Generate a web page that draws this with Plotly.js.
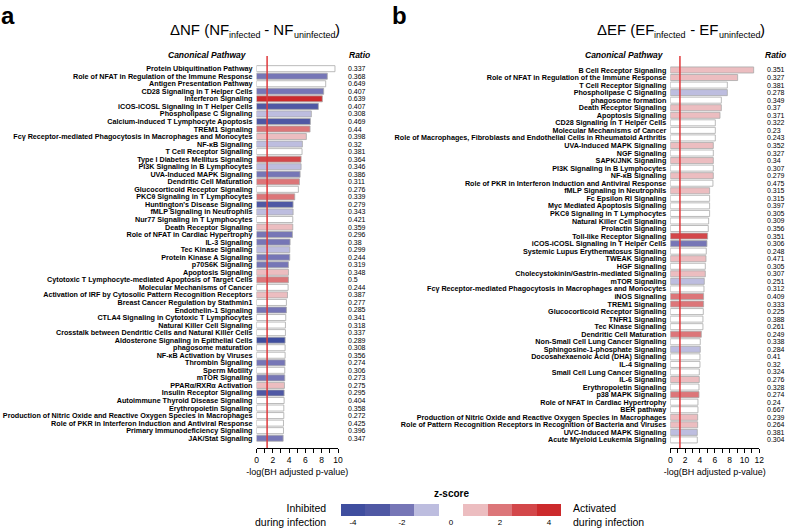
<!DOCTYPE html>
<html><head><meta charset="utf-8">
<script src="https://cdn.plot.ly/plotly-3.0.1.min.js"></script>
<style>body{margin:0;background:#fff}#c{width:787px;height:528px}</style>
</head><body><div id="c"></div>
<script>
const namesA = ["Protein Ubiquitination Pathway","Role of NFAT in Regulation of the Immune Response","Antigen Presentation Pathway","CD28 Signaling in T Helper Cells","Interferon Signaling","iCOS-iCOSL Signaling in T Helper Cells","Phospholipase C Signaling","Calcium-induced T Lymphocyte Apoptosis","TREM1 Signaling","Fcγ Receptor-mediated Phagocytosis in Macrophages and Monocytes","NF-κB Signaling","T Cell Receptor Signaling","Type I Diabetes Mellitus Signaling","PI3K Signaling in B Lymphocytes","UVA-Induced MAPK Signaling","Dendritic Cell Maturation","Glucocorticoid Receptor Signaling","PKCθ Signaling in T Lymphocytes","Huntington's Disease Signaling","fMLP Signaling in Neutrophils","Nur77 Signaling in T Lymphocytes","Death Receptor Signaling","Role of NFAT in Cardiac Hypertrophy","IL-3 Signaling","Tec Kinase Signaling","Protein Kinase A Signaling","p70S6K Signaling","Apoptosis Signaling","Cytotoxic T Lymphocyte-mediated Apoptosis of Target Cells","Molecular Mechanisms of Cancer","Activation of IRF by Cytosolic Pattern Recognition Receptors","Breast Cancer Regulation by Stathmin1","Endothelin-1 Signaling","CTLA4 Signaling in Cytotoxic T Lymphocytes","Natural Killer Cell Signaling","Crosstalk between Dendritic Cells and Natural Killer Cells","Aldosterone Signaling in Epithelial Cells","phagosome maturation","NF-κB Activation by Viruses","Thrombin Signaling","Sperm Motility","mTOR Signaling","PPARα/RXRα Activation","Insulin Receptor Signaling","Autoimmune Thyroid Disease Signaling","Erythropoietin Signaling","Production of Nitric Oxide and Reactive Oxygen Species in Macrophages","Role of PKR in Interferon Induction and Antiviral Response","Primary Immunodeficiency Signaling","JAK/Stat Signaling"];
const pvalA = [9.63,8.69,8.49,8.24,8.08,7.59,6.73,6.61,6.57,6.12,5.63,5.59,5.47,5.47,5.35,5.27,5.14,4.69,4.49,4.49,4.45,4.45,4.41,4.12,4.08,4.08,3.92,3.92,3.92,3.88,3.80,3.67,3.67,3.59,3.55,3.55,3.51,3.51,3.51,3.51,3.47,3.47,3.43,3.39,3.39,3.35,3.35,3.31,3.31,3.27];
const ratioA = [0.337,0.368,0.649,0.407,0.639,0.407,0.308,0.469,0.44,0.398,0.32,0.381,0.364,0.346,0.386,0.311,0.276,0.339,0.279,0.343,0.421,0.359,0.296,0.38,0.299,0.244,0.319,0.348,0.5,0.244,0.387,0.277,0.285,0.341,0.318,0.337,0.289,0.308,0.356,0.274,0.306,0.273,0.275,0.295,0.404,0.358,0.272,0.425,0.396,0.347];
const zA = [null,-2,null,-2,4,-3,-1,-3,2,1,-1,null,3,-1,-2,2,null,2,-3,-1,null,1,-2,-2,-1,-2,-2,1,2,null,1,null,-2,null,null,null,-4,null,null,-2,null,-2,1,-3,null,null,null,null,null,-2];

const namesB = ["B Cell Receptor Signaling","Role of NFAT in Regulation of the Immune Response","T Cell Receptor Signaling","Phospholipase C Signaling","phagosome formation","Death Receptor Signaling","Apoptosis Signaling","CD28 Signaling in T Helper Cells","Molecular Mechanisms of Cancer","Role of Macrophages, Fibroblasts and Endothelial Cells in Rheumatoid Arthritis","UVA-Induced MAPK Signaling","NGF Signaling","SAPK/JNK Signaling","PI3K Signaling in B Lymphocytes","NF-κB Signaling","Role of PKR in Interferon Induction and Antiviral Response","fMLP Signaling in Neutrophils","Fc Epsilon RI Signaling","Myc Mediated Apoptosis Signaling","PKCθ Signaling in T Lymphocytes","Natural Killer Cell Signaling","Prolactin Signaling","Toll-like Receptor Signaling","iCOS-iCOSL Signaling in T Helper Cells","Systemic Lupus Erythematosus Signaling","TWEAK Signaling","HGF Signaling","Cholecystokinin/Gastrin-mediated Signaling","mTOR Signaling","Fcγ Receptor-mediated Phagocytosis in Macrophages and Monocytes","iNOS Signaling","TREM1 Signaling","Glucocorticoid Receptor Signaling","TNFR1 Signaling","Tec Kinase Signaling","Dendritic Cell Maturation","Non-Small Cell Lung Cancer Signaling","Sphingosine-1-phosphate Signaling","Docosahexaenoic Acid (DHA) Signaling","IL-4 Signaling","Small Cell Lung Cancer Signaling","IL-6 Signaling","Erythropoietin Signaling","p38 MAPK Signaling","Role of NFAT in Cardiac Hypertrophy","BER pathway","Production of Nitric Oxide and Reactive Oxygen Species in Macrophages","Role of Pattern Recognition Receptors in Recognition of Bacteria and Viruses","UVC-Induced MAPK Signaling","Acute Myeloid Leukemia Signaling"];
const pvalB = [11.24,9.08,7.69,7.69,6.88,6.88,6.70,6.07,6.07,6.07,5.80,5.80,5.80,5.80,5.80,5.75,5.30,5.30,5.30,5.30,5.17,5.12,5.03,4.94,4.85,4.81,4.72,4.72,4.58,4.54,4.49,4.49,4.45,4.40,4.40,4.18,4.04,4.04,4.00,4.00,3.91,3.91,3.87,3.87,3.73,3.73,3.69,3.69,3.64,3.64];
const ratioB = [0.351,0.327,0.381,0.278,0.349,0.37,0.371,0.322,0.23,0.243,0.352,0.327,0.34,0.307,0.279,0.475,0.315,0.315,0.397,0.305,0.309,0.356,0.351,0.306,0.248,0.471,0.305,0.307,0.251,0.312,0.409,0.333,0.225,0.388,0.261,0.249,0.338,0.284,0.41,0.32,0.324,0.276,0.328,0.274,0.24,0.667,0.239,0.264,0.381,0.304];
const zB = [1,1,null,-1,null,1,1,null,null,null,1,null,1,null,1,null,1,null,null,null,null,null,3,-2,null,1,null,1,-1,null,2,2,null,null,null,2,null,-1,null,null,null,1,null,2,null,null,1,1,-1,null];

const titlePartsA = [["ΔNF (NF",false],["infected",true],[" - NF",false],["uninfected",true],[")",false]];
const titlePartsB = [["ΔEF (EF",false],["infected",true],[" - EF",false],["uninfected",true],[")",false]];
const majorTicksA = [0,2,4,6,8,10];
const minorTicksA = [1,3,5,7,9];
const majorTicksB = [0,2,4,6,8,10,12];
const minorTicksB = [1,3,5,7,9,11];
const legendZ = [-4,-3,-2,-1,1,2,3,4];
const legendTickVals = [-4,-2,0,2,4];
const legendTickText = ["-4","-2","0","2","4"];
const threshold = 1.3;

const zColors = {"-4":"#3f4e9f","-3":"#4f58a4","-2":"#7676b6","-1":"#bdbddf","1":"#ecbdc0","2":"#dc7679","3":"#d3474a","4":"#cc2a2c"};
function colorFor(z){ if(z===null) return "#ffffff"; const k=Math.max(-4,Math.min(4,Math.round(z))); return zColors[String(k)]; }

const W=787,H=528;
const FF="Liberation Sans, Arial, sans-serif";
const px=x=>x/W, py=y=>1-y/H;
const idxA = namesA.map((_,i)=>i), idxB = namesB.map((_,i)=>i);

const traces = [
 {type:"bar",orientation:"h",x:pvalA,y:idxA,xaxis:"x",yaxis:"y",width:0.8,
  marker:{color:zA.map(colorFor),line:{color:"#a9a9a9",width:0.8}},hoverinfo:"none"},
 {type:"bar",orientation:"h",x:pvalB,y:idxB,xaxis:"x2",yaxis:"y2",width:0.8,
  marker:{color:zB.map(colorFor),line:{color:"#a9a9a9",width:0.8}},hoverinfo:"none"},
 {type:"bar",x:legendZ,y:legendZ.map(()=>1),xaxis:"x3",yaxis:"y3",width:1,
  marker:{color:legendZ.map(colorFor),line:{width:0}},hoverinfo:"none"}
];

const tickFontY={family:FF,size:7.2,color:"#000",weight:"bold"};
const xAxisCommon={showgrid:false,zeroline:false,showline:true,linecolor:"#000",linewidth:1,ticks:"outside",ticklen:4,tickcolor:"#000",tickwidth:1,tickmode:"array",tickfont:{family:FF,size:8.5,color:"#000"},fixedrange:true,
  title:{text:"-log(BH adjusted p-value)",font:{family:FF,size:9,color:"#000"},standoff:4}};

const annotations=[];
ratioA.forEach((r,i)=>annotations.push({xref:"paper",yref:"y",x:px(346),y:i,text:String(r),xanchor:"left",showarrow:false,font:{family:FF,size:7,color:"#000"}}));
ratioB.forEach((r,i)=>annotations.push({xref:"paper",yref:"y2",x:px(765),y:i,text:String(r),xanchor:"left",showarrow:false,font:{family:FF,size:7,color:"#000"}}));
const hdr={family:FF,size:8.5,color:"#000",weight:"bold",style:"italic"};
annotations.push({xref:"paper",yref:"paper",x:px(249),y:py(55),text:"Canonical Pathway",xanchor:"right",yanchor:"middle",showarrow:false,font:hdr});
annotations.push({xref:"paper",yref:"paper",x:px(347),y:py(55),text:"Ratio",xanchor:"left",yanchor:"middle",showarrow:false,font:hdr});
annotations.push({xref:"paper",yref:"paper",x:px(666),y:py(55),text:"Canonical Pathway",xanchor:"right",yanchor:"middle",showarrow:false,font:hdr});
annotations.push({xref:"paper",yref:"paper",x:px(763),y:py(55),text:"Ratio",xanchor:"left",yanchor:"middle",showarrow:false,font:hdr});

// titles assembled from pieces (main size 15, subscript size 9)
const cv=document.createElement("canvas").getContext("2d");
function textW(t,s){ cv.font=s+"px 'Liberation Sans', Arial, sans-serif"; return cv.measureText(t).width; }
function addTitle(parts,cx,cy){
  const MS=15, SS=9;
  const widths=parts.map(p=>textW(p[0],p[1]?SS:MS));
  let x=cx-widths.reduce((a,b)=>a+b,0)/2;
  parts.forEach((p,i)=>{
    annotations.push({xref:"paper",yref:"paper",x:px(x),y:py(p[1]?cy+6:cy),text:p[0],xanchor:"left",yanchor:"middle",borderpad:0,showarrow:false,font:{family:FF,size:p[1]?SS:MS,color:"#000"}});
    x+=widths[i];
  });
}
addTitle(titlePartsA,254,29);
addTitle(titlePartsB,680,29);

annotations.push({xref:"paper",yref:"paper",x:px(-1),y:py(0),text:"a",xanchor:"left",yanchor:"top",showarrow:false,font:{family:FF,size:24,color:"#000",weight:"bold"}});
annotations.push({xref:"paper",yref:"paper",x:px(390),y:py(0),text:"b",xanchor:"left",yanchor:"top",showarrow:false,font:{family:FF,size:24,color:"#000",weight:"bold"}});
annotations.push({xref:"paper",yref:"paper",x:px(451),y:py(493),text:"z-score",xanchor:"center",yanchor:"middle",showarrow:false,font:{family:FF,size:10,color:"#000",weight:"bold"}});
annotations.push({xref:"paper",yref:"paper",x:px(328),y:py(515),text:"Inhibited<br>during infection",xanchor:"right",yanchor:"middle",align:"right",showarrow:false,font:{family:FF,size:10.5,color:"#000"}});
annotations.push({xref:"paper",yref:"paper",x:px(571),y:py(515),text:"Activated<br>during infection",xanchor:"left",yanchor:"middle",align:"left",showarrow:false,font:{family:FF,size:10.5,color:"#000"}});

const minorCommon={ticks:"outside",ticklen:4,tickcolor:"#000",tickwidth:1,showgrid:false,tickmode:"array"};
const layout={
 width:W,height:H,margin:{l:0,r:0,t:0,b:0},paper_bgcolor:"#fff",plot_bgcolor:"rgba(0,0,0,0)",showlegend:false,bargap:0,
 xaxis:Object.assign({},xAxisCommon,{domain:[px(256.5),px(338)],range:[0,10],anchor:"y",tickvals:majorTicksA,ticktext:majorTicksA.map(String),minor:Object.assign({},minorCommon,{tickvals:minorTicksA})}),
 yaxis:{domain:[py(448),py(56)],range:[50.3,-1.68],showgrid:false,zeroline:false,showline:false,ticks:"",tickmode:"array",tickvals:idxA,ticktext:namesA,tickfont:tickFontY,ticklabelstandoff:3,anchor:"x",fixedrange:true},
 xaxis2:Object.assign({},xAxisCommon,{domain:[px(670.3),px(759.3)],range:[0,12],anchor:"y2",tickvals:majorTicksB,ticktext:majorTicksB.map(String),minor:Object.assign({},minorCommon,{tickvals:minorTicksB})}),
 yaxis2:{domain:[py(448),py(56)],range:[50.07,-1.85],showgrid:false,zeroline:false,showline:false,ticks:"",tickmode:"array",tickvals:idxB,ticktext:namesB,tickfont:tickFontY,ticklabelstandoff:3,anchor:"x2",fixedrange:true},
 xaxis3:{domain:[px(340.7),px(561.3)],range:[-4.5,4.5],anchor:"y3",showgrid:false,zeroline:false,showline:false,ticks:"",tickmode:"array",tickvals:legendTickVals,ticktext:legendTickText,tickfont:{family:FF,size:8,color:"#000"},fixedrange:true},
 yaxis3:{domain:[py(516),py(504)],range:[0,1],anchor:"x3",visible:false,fixedrange:true},
 shapes:[
  {type:"line",xref:"x",yref:"y domain",x0:threshold,x1:threshold,y0:0,y1:1,line:{color:"#e0393c",width:1.5},layer:"above"},
  {type:"line",xref:"x2",yref:"y2 domain",x0:threshold,x1:threshold,y0:0,y1:1,line:{color:"#e0393c",width:1.5},layer:"above"}
 ],
 annotations:annotations
};
Plotly.newPlot("c",traces,layout,{staticPlot:true,displayModeBar:false});
</script></body></html>
